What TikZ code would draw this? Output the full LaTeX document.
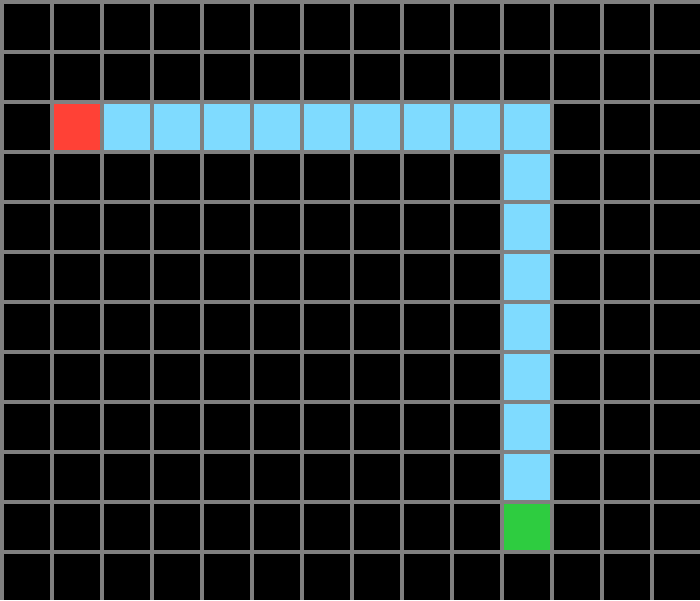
\documentclass[tikz,border=0pt]{standalone}
\usepackage{tikz}
\usetikzlibrary{positioning}

\definecolor{gridgray}{HTML}{808080}
\definecolor{startred}{HTML}{FF4136}
\definecolor{trailblue}{HTML}{7FDBFF}
\definecolor{goalgreen}{HTML}{2ECC40}

\begin{document}
\begin{tikzpicture}[
            x=1cm, y=-1cm, % one cell per unit, rows counted from the top
            emptycell/.style={fill=black},
            startcell/.style={fill=startred},
            trailcell/.style={fill=trailblue},
            goalcell/.style={fill=goalgreen}
        ]
        
        % Grid lines (background)
        \fill[gridgray] (0,0) rectangle (14,12);
        
        % Empty cells
        \foreach \c in {0,...,13}
            \foreach \r in {0,...,11}
                \fill[emptycell] (\c+0.08,\r+0.08) rectangle (\c+1,\r+1);
        
        % Start
        \fill[startcell] (1.08,2.08) rectangle (2,3);
        
        % Trail (row, then column)
        \foreach \c in {2,...,10}
            \fill[trailcell] (\c+0.08,2.08) rectangle (\c+1,3);
        \foreach \r in {3,...,9}
            \fill[trailcell] (10.08,\r+0.08) rectangle (11,\r+1);
        
        % Goal
        \fill[goalcell] (10.08,10.08) rectangle (11,11);
        
        \end{tikzpicture}
\end{document}
